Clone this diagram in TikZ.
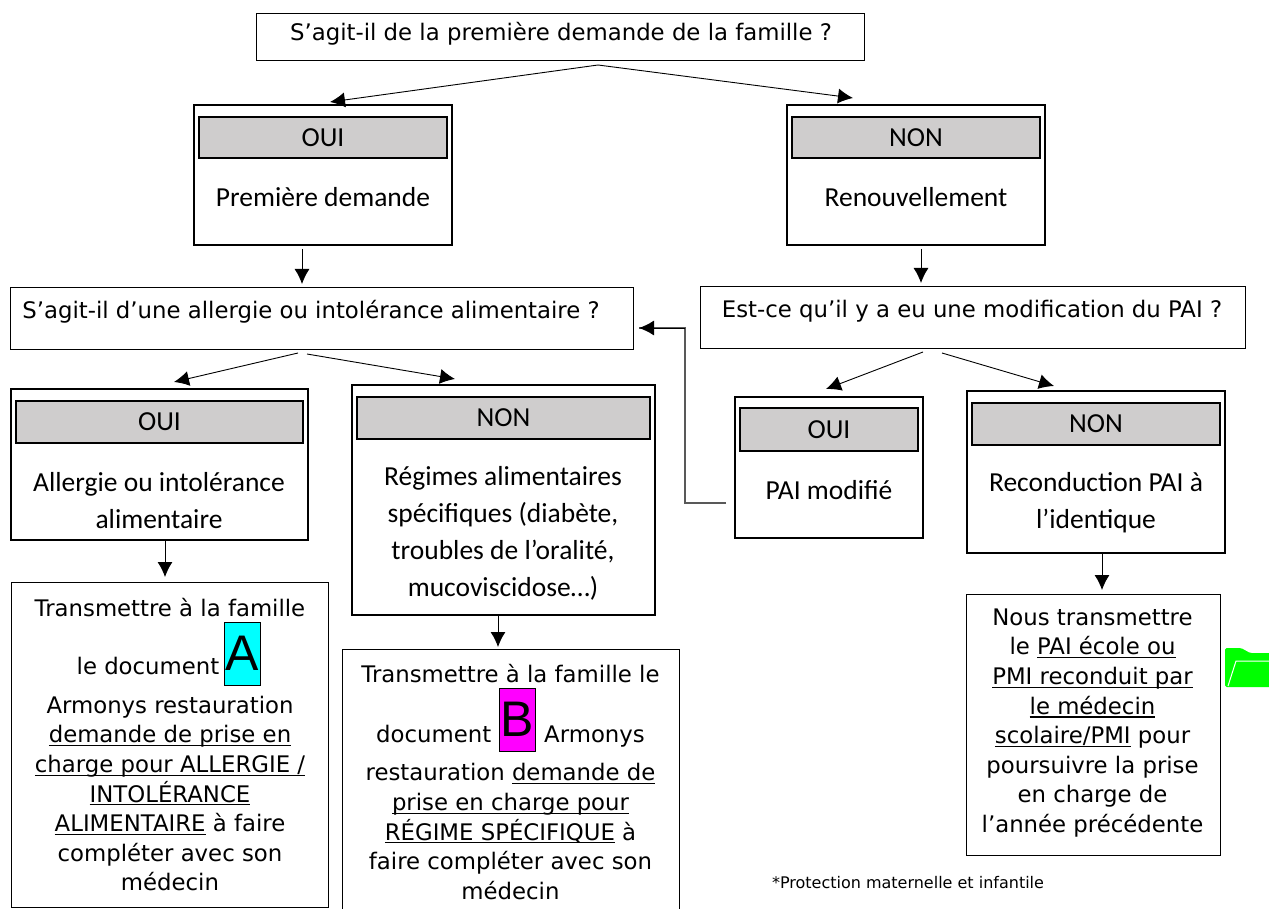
\documentclass[tikz,border=0pt]{standalone}
\usepackage{fontspec}
\usepackage{tikz}
\usetikzlibrary{arrows.meta}
\newfontfamily\verdanafont{DejaVu Sans}
\newfontfamily\calibrifont{Carlito}
\newfontfamily\arialfont{Liberation Sans}
\newsavebox{\ulinebox}
\newcommand{\uln}[1]{\sbox{\ulinebox}{#1}\rlap{\rule[-3.4pt]{\wd\ulinebox}{1.2pt}}\usebox{\ulinebox}}
\tikzset{
	box/.style={shape=rectangle,draw=black,inner sep=0pt,line width=1.2pt},
	headbox/.style={box,fill=headgray,font=\calibrifont\fontsize{27.5}{28}\selectfont},
	txtv/.style={align=center,inner sep=0pt,font=\verdanafont\fontsize{22.8}{29.6}\selectfont},
	txtc/.style={align=center,inner sep=0pt,font=\calibrifont\fontsize{27.5}{37}\selectfont},
	badge/.style={shape=rectangle,draw=black,line width=0.8pt,inner sep=0pt,minimum width=36pt,minimum height=63pt,font=\arialfont\fontsize{50}{50}\selectfont},
	link/.style={->,line width=0.9pt},
}
\definecolor{headgray}{HTML}{CFCDCD}
\definecolor{linkgray}{HTML}{595959}
\definecolor{foldergreen}{HTML}{00FF00}
\definecolor{badgecyan}{HTML}{00FFFF}
\definecolor{badgepink}{HTML}{FF00FF}
\begin{document}
\begin{tikzpicture}[x=1pt,y=-1pt,>={Latex[length=15pt,width=15pt]}]
	\clip (0,0) rectangle (1269,909);
	\node[box,line width=0.9pt,minimum width=608pt,minimum height=47pt] (first) at (560,36.5) {};
	\node[txtv] (firsttxt) at (561,34) {S’agit-il de la première demande de la famille ?};

	\node[box,minimum width=258pt,minimum height=140pt] (oui) at (323,175) {};
	\node[headbox,minimum width=248pt,minimum height=41pt] (ouihead) at (323,137.5) {OUI};
	\node[txtc] (ouitxt) at (323,197) {Première demande};
	\node[box,minimum width=258pt,minimum height=140pt] (non) at (916,175) {};
	\node[headbox,minimum width=248pt,minimum height=41pt] (nonhead) at (916,137.5) {NON};
	\node[txtc] (nontxt) at (916,197) {Renouvellement};

	\node[box,line width=0.9pt,minimum width=623pt,minimum height=62pt] (allergy) at (321.5,318) {};
	\node[txtv] (allergytxt) at (311,312) {S’agit-il d’une allergie ou intolérance alimentaire ?};
	\node[box,line width=0.9pt,minimum width=545pt,minimum height=62pt] (modif) at (972.5,317) {};
	\node[txtv] (modiftxt) at (972,311) {Est-ce qu’il y a eu une modification du PAI ?};

	\node[box,minimum width=297pt,minimum height=151pt] (ouia) at (159.5,464.5) {};
	\node[headbox,minimum width=287pt,minimum height=42pt] (ouiahead) at (159.5,422) {OUI};
	\node[txtc] (ouiatxt) at (159,501) {Allergie ou intolérance\\alimentaire};
	\node[box,minimum width=303pt,minimum height=230pt] (nona) at (503.5,500) {};
	\node[headbox,minimum width=293pt,minimum height=42pt] (nonahead) at (503.5,418) {NON};
	\node[txtc] (nonatxt) at (503,533) {Régimes alimentaires\\spécifiques (diabète,\\troubles de l’oralité,\\mucoviscidose…)};
	\node[box,minimum width=188pt,minimum height=141pt] (ouib) at (829,467.5) {};
	\node[headbox,minimum width=178pt,minimum height=43pt] (ouibhead) at (829,429.5) {OUI};
	\node[txtc] (ouibtxt) at (829,490) {PAI modifié};
	\node[box,minimum width=258pt,minimum height=162pt] (nonb) at (1096,472) {};
	\node[headbox,minimum width=248pt,minimum height=42pt] (nonbhead) at (1096,424) {NON};
	\node[txtc] (nonbtxt) at (1096,503) {Reconduction PAI à\\l’identique};

	\node[box,line width=0.9pt,minimum width=317pt,minimum height=325pt] (doca) at (169.5,744.5) {};
	\node[txtv] (docatxt) at (170,744.5) {Transmettre à la famille\\[29pt]
		le document\rule{44pt}{0pt}\\[9pt]
		Armonys restauration\\
		\uln{demande de prise en}\\
		\uln{charge pour ALLERGIE /}\\
		\uln{INTOLÉRANCE}\\
		\uln{ALIMENTAIRE} à faire\\
		compléter avec son\\
		médecin};
	\node[badge,fill=badgecyan] (badgea) at (242.5,653.5) {A};
	\node[box,line width=0.9pt,minimum width=337pt,minimum height=291pt] (docb) at (511,794.5) {};
	\node[txtv] (docbtxt) at (510.5,782) {Transmettre à la famille le\\[30pt]
		document\hspace{53pt}Armonys\\[9pt]
		restauration \uln{demande de}\\
		\uln{prise en charge pour}\\
		\uln{RÉGIME SPÉCIFIQUE} à\\
		faire compléter avec son\\
		médecin};
	\node[badge,fill=badgepink] (badgeb) at (517,719.5) {B};
	\node[box,line width=0.9pt,minimum width=254pt,minimum height=261pt] (docc) at (1093,724.5) {};
	\node[txtv] (docctxt) at (1092.5,723) {Nous transmettre\\
		le \uln{PAI école ou}\\
		\uln{PMI reconduit par}\\
		\uln{le médecin}\\
		\uln{scolaire/PMI} pour\\
		poursuivre la prise\\
		en charge de\\
		l’année précédente};
	\node[inner sep=0pt,font=\verdanafont\fontsize{16}{18}\selectfont] (note) at (908,883) {*Protection maternelle et infantile};

	\fill[foldergreen,rounded corners=1.5pt] (1225,687) -- (1225,648) -- (1241,648) -- (1250,653) -- (1275,653) -- (1275,687) -- cycle;
	\draw[white,line width=1pt] (1228,686) -- (1236,661) -- (1275,661);

	\coordinate (firstout) at (598,65);
	\coordinate (ouiin) at (330,102);
	\coordinate (nonin) at (853,98);
	\coordinate (ouiout) at (302,249);
	\coordinate (allergyin) at (302,284);
	\coordinate (nonout) at (921,249);
	\coordinate (modifin) at (921,283);
	\coordinate (allergyouta) at (298,353);
	\coordinate (ouiain) at (174,382);
	\coordinate (allergyoutb) at (307,354);
	\coordinate (nonain) at (455,379);
	\coordinate (modifouta) at (923,352);
	\coordinate (ouibin) at (826,389);
	\coordinate (modifoutb) at (942,353);
	\coordinate (nonbin) at (1054,386);
	\coordinate (ouiaout) at (165,541);
	\coordinate (docain) at (165,577);
	\coordinate (nonaout) at (498,615);
	\coordinate (docbin) at (498,647);
	\coordinate (nonbout) at (1102,553);
	\coordinate (doccin) at (1102,590);
	\coordinate (ouibout) at (726,503);
	\coordinate (bendlow) at (685,503);
	\coordinate (bendhigh) at (685,328);
	\coordinate (allergyback) at (639,328);

	\path[link] (firstout) edge (ouiin);
	\path[link] (firstout) edge (nonin);
	\path[link] (ouiout) edge (allergyin);
	\path[link] (nonout) edge (modifin);
	\path[link] (allergyouta) edge (ouiain);
	\path[link] (allergyoutb) edge (nonain);
	\path[link] (modifouta) edge (ouibin);
	\path[link] (modifoutb) edge (nonbin);
	\path[link] (ouiaout) edge (docain);
	\path[link] (nonaout) edge (docbin);
	\path[link] (nonbout) edge (doccin);
	\draw[draw=linkgray,line width=1.1pt] (ouibout) -- (bendlow) -- (bendhigh) -- (allergyback);
	\path[link] (bendhigh) edge (allergyback);
\end{tikzpicture}
\end{document}
